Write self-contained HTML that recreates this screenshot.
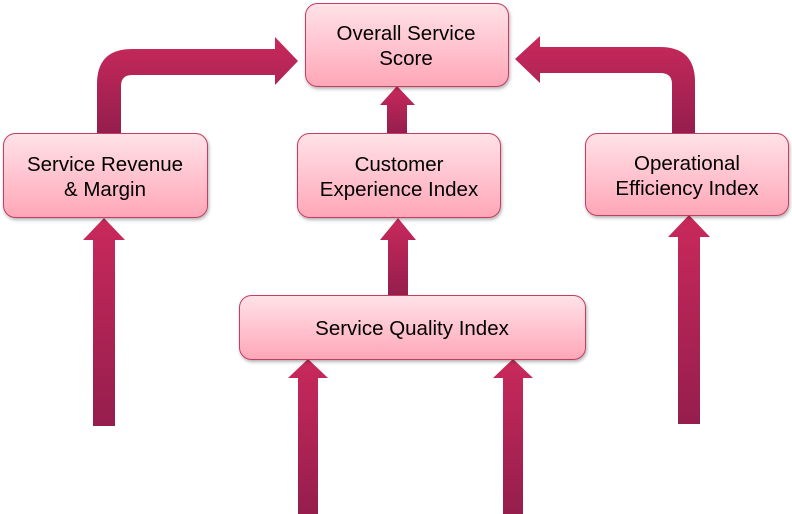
<!DOCTYPE html>
<html><head><meta charset="utf-8"><style>
body{margin:0;background:#fff;}
svg{display:block;}
text{font-family:"Liberation Sans",sans-serif;font-size:20.5px;fill:#000;text-anchor:middle;}
</style></head><body>
<svg width="792" height="514" viewBox="0 0 792 514" xmlns="http://www.w3.org/2000/svg">
<defs>
<linearGradient id="box" x1="0" y1="0" x2="0" y2="1">
<stop offset="0" stop-color="#ffe2e8"/><stop offset="1" stop-color="#ffa6b7"/></linearGradient>
<linearGradient id="ar" x1="0" y1="0" x2="0" y2="1">
<stop offset="0" stop-color="#c9295b"/><stop offset="1" stop-color="#951e4d"/></linearGradient>
<filter id="sh" x="-10%" y="-10%" width="120%" height="130%"><feDropShadow dx="1" dy="2" stdDeviation="1.5" flood-opacity="0.3"/></filter>
</defs>
<path d="M97,133 V84 Q97,49 132,49 H275 V37 L298,61 L275,85 V75 H132 Q121,75 121,86 V133 Z" fill="url(#ar)"/>
<path d="M695,133 V82 Q695,47 660,47 H540 V36 L515,59 L540,83 V73 H660 Q672,73 672,84 V133 Z" fill="url(#ar)"/>
<path d="M387,133 V105 H380 L397,86 L415,105 H407 V133 Z" fill="url(#ar)"/>
<path d="M388,295 V240 H380 L398,218 L416,240 H408 V295 Z" fill="url(#ar)"/>
<path d="M93,426 V240 H83 L104,218 L125,240 H115 V426 Z" fill="url(#ar)"/>
<path d="M678,424 V237 H668 L689,215 L710,237 H700 V424 Z" fill="url(#ar)"/>
<path d="M298,514 V378 H288 L308,359 L328,378 H318 V514 Z" fill="url(#ar)"/>
<path d="M503,514 V378 H493 L513,359 L533,378 H523 V514 Z" fill="url(#ar)"/>
<g filter="url(#sh)" stroke="#c43d62" stroke-width="1" fill="url(#box)">
<rect x="305.5" y="3.5" width="203" height="83" rx="12"/>
<rect x="3.5" y="133.5" width="204" height="84" rx="12"/>
<rect x="297.5" y="133.5" width="203" height="84" rx="12"/>
<rect x="585.5" y="133.5" width="203" height="82" rx="12"/>
<rect x="239.5" y="295.5" width="346" height="64" rx="12"/>
</g>
<text x="406" y="40">Overall Service</text>
<text x="406" y="65">Score</text>
<text x="105" y="171">Service Revenue</text>
<text x="105" y="196">&amp; Margin</text>
<text x="399" y="171">Customer</text>
<text x="399" y="196">Experience Index</text>
<text x="687" y="170">Operational</text>
<text x="687" y="195">Efficiency Index</text>
<text x="412" y="335">Service Quality Index</text>
</svg>
</body></html>
